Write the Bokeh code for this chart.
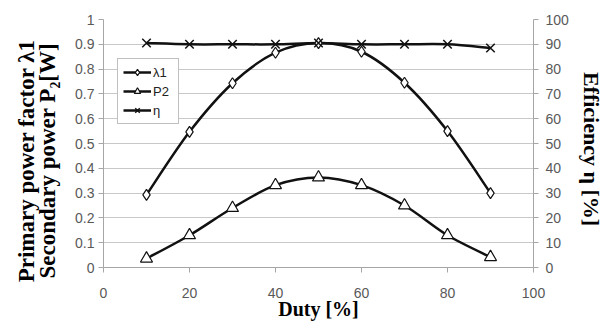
import math
from bokeh.plotting import figure
from bokeh.models import (Range1d, LinearAxis, Legend, LegendItem,
                          SingleIntervalTicker, FixedTicker)
from bokeh.embed import file_html
from bokeh.resources import INLINE

duty = [10, 20, 30, 40, 50, 60, 70, 80, 90]
lam1 = [0.293, 0.547, 0.743, 0.866, 0.905, 0.870, 0.745, 0.550, 0.300]
p2 = [0.036, 0.130, 0.240, 0.332, 0.363, 0.332, 0.250, 0.130, 0.042]
eta = [90.5, 90.0, 90.0, 90.0, 90.5, 90.0, 90.0, 90.0, 88.5]
x_ticks = [0, 20, 40, 60, 80, 100]

SANS = "Liberation Sans"
SERIF = "Liberation Serif"
GRAY_TXT = "#595959"
AX = "#a6a6a6"
INK = "#111111"
NB = "\u00a0"

p = figure(width=608, height=322, output_backend="svg", toolbar_location=None,
           x_range=Range1d(0, 100), y_range=Range1d(0, 1),
           min_border_left=103, min_border_right=75, min_border_top=19,
           min_border_bottom=54)
p.extra_y_ranges = {"eff": Range1d(0, 100)}
p.outline_line_color = None
p.background_fill_color = "white"
p.border_fill_color = "white"

p.xgrid.visible = False
p.ygrid.ticker = SingleIntervalTicker(interval=0.1)
p.ygrid.grid_line_color = "#c8c8c8"
p.ygrid.grid_line_width = 1

def style_axis(ax):
    ax.axis_line_color = AX
    ax.major_tick_line_color = AX
    ax.minor_tick_line_color = None
    ax.major_tick_in = 0
    ax.major_tick_out = 5
    ax.major_label_text_font = SANS
    ax.major_label_text_font_size = "14px"
    ax.major_label_text_color = GRAY_TXT
    ax.axis_label_text_font = SERIF
    ax.axis_label_text_font_style = "bold"
    ax.axis_label_text_font_size = "20px"
    ax.axis_label_text_color = "black"

xa = p.xaxis[0]
style_axis(xa)
xa.ticker = FixedTicker(ticks=x_ticks)
xa.major_label_standoff = 15
xa.axis_label = "Duty [%]"
xa.axis_label_standoff = -3

ya = p.yaxis[0]
style_axis(ya)
ya.ticker = SingleIntervalTicker(interval=0.1)
ya.major_label_standoff = 4
ya.axis_label = ("Primary power factor λ1" + NB * 6 +
                 "\nSecondary power P₂[W]" + NB * 6)
ya.axis_label_text_font_size = "23px"
ya.axis_label_text_line_height = 0.85
ya.axis_label_standoff = 12

ra = LinearAxis(y_range_name="eff", ticker=SingleIntervalTicker(interval=10))
style_axis(ra)
ra.major_label_standoff = 7
ra.axis_label = NB * 4 + "Efficiency   η [%]"
ra.axis_label_text_font_size = "22px"
ra.axis_label_standoff = 7
p.add_layout(ra, "right")

def smooth(xs, ys, **kw):
    n = len(xs)
    x0, y0, x1, y1, cx0, cy0, cx1, cy1 = [], [], [], [], [], [], [], []
    for i in range(n - 1):
        pm = max(i - 1, 0)
        pp = min(i + 2, n - 1)
        x0.append(xs[i]); y0.append(ys[i])
        x1.append(xs[i + 1]); y1.append(ys[i + 1])
        cx0.append(xs[i] + (xs[i + 1] - xs[pm]) / 6)
        cy0.append(ys[i] + (ys[i + 1] - ys[pm]) / 6)
        cx1.append(xs[i + 1] - (xs[pp] - xs[i]) / 6)
        cy1.append(ys[i + 1] - (ys[pp] - ys[i]) / 6)
    return p.bezier(x0=x0, y0=y0, x1=x1, y1=y1, cx0=cx0, cy0=cy0,
                    cx1=cx1, cy1=cy1, line_color=INK, line_width=2.5, **kw)

smooth(duty, lam1)
smooth(duty, p2)
smooth(duty, eta, y_range_name="eff")

mk_lam = p.scatter(duty, lam1, marker="diamond", size=11, fill_color="white",
                   line_color=INK, line_width=1.2)
mk_p2 = p.scatter(duty, p2, marker="triangle", size=12, fill_color="white",
                  line_color=INK, line_width=1.2)
mk_eta = p.scatter(duty, eta, marker="x", size=12, line_color=INK,
                   line_width=1.5, y_range_name="eff")

lg_lam = p.line(duty, lam1, line_color=INK, line_width=2.5, visible=False)
lg_p2 = p.line(duty, p2, line_color=INK, line_width=2.5, visible=False)
lg_eta = p.line(duty, eta, line_color=INK, line_width=2.5, visible=False,
                y_range_name="eff")

legend = Legend(items=[
    LegendItem(label="λ1", renderers=[lg_lam, mk_lam]),
    LegendItem(label="P2", renderers=[lg_p2, mk_p2]),
    LegendItem(label="η", renderers=[lg_eta, mk_eta]),
], location=(14, 143))
legend.label_text_font = SANS
legend.label_text_font_size = "13px"
legend.label_text_color = "#222222"
legend.label_height = 16
legend.glyph_width = 28
legend.glyph_height = 16
legend.label_standoff = 2
legend.spacing = 3
legend.padding = 5
legend.margin = 0
legend.border_line_color = "#808080"
legend.border_line_width = 1
legend.background_fill_alpha = 1
p.add_layout(legend)

open("out.html", "w").write(file_html(p, INLINE))
